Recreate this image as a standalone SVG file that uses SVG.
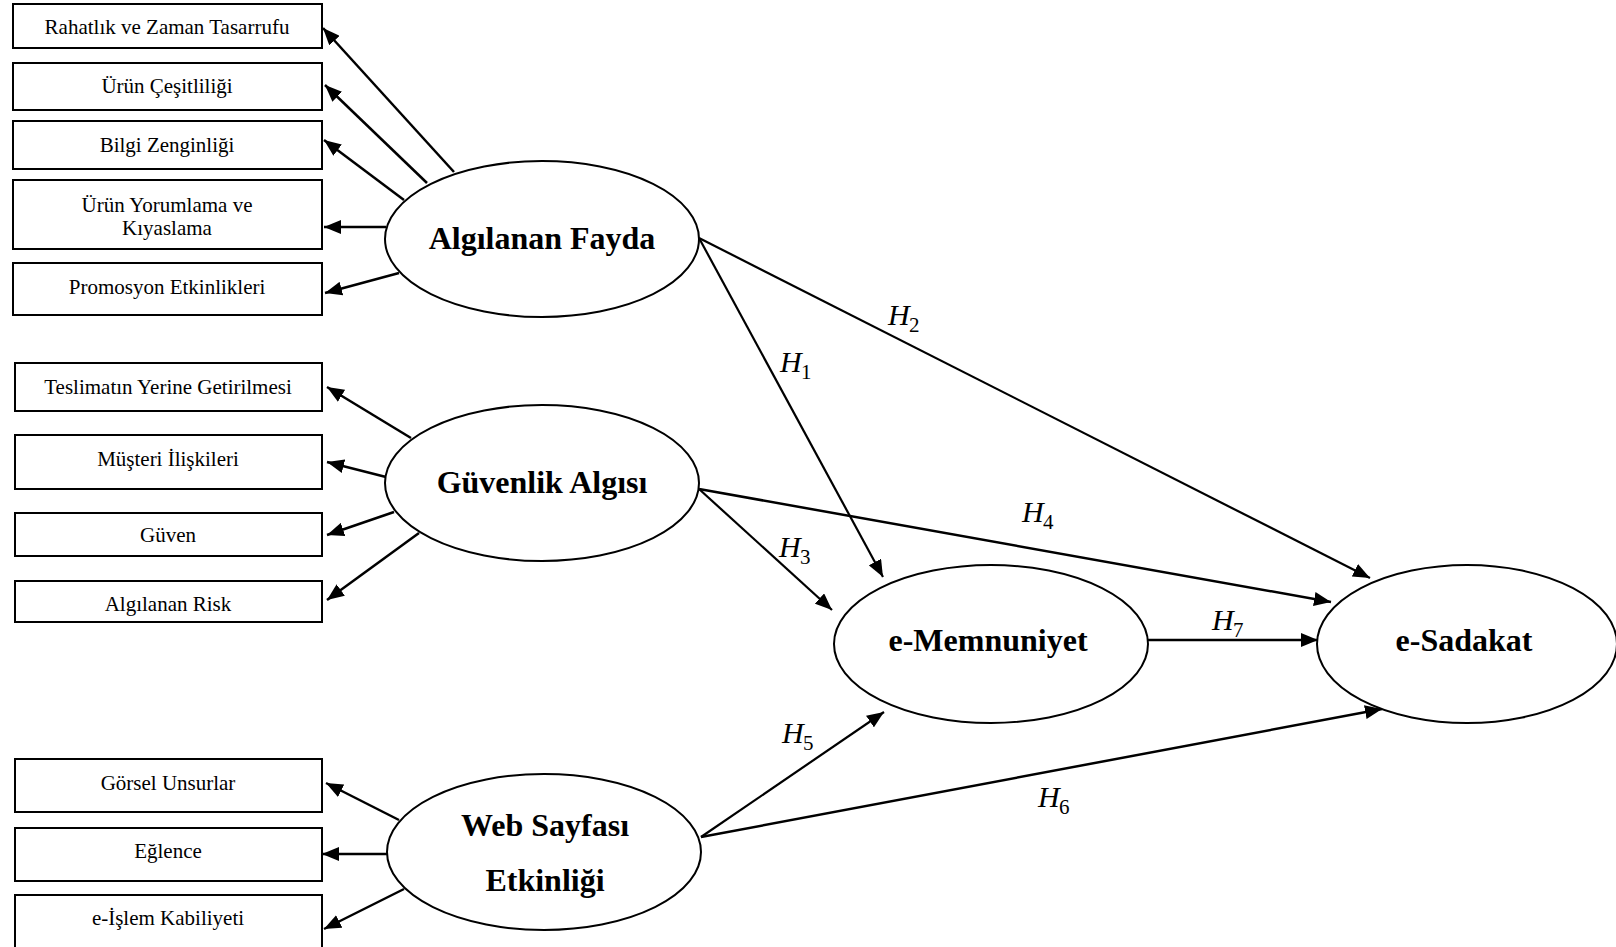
<svg xmlns="http://www.w3.org/2000/svg" width="1616" height="947" viewBox="0 0 1616 947">
  <defs>
    <marker id="arrow" markerUnits="userSpaceOnUse" markerWidth="18" markerHeight="14" refX="17" refY="7" orient="auto">
      <path d="M0,0 L17,7 L0,14 z" fill="#000"/>
    </marker>
    <style>
      .box { fill: #fff; stroke: #000; stroke-width: 2; }
      .oval { fill: #fff; stroke: #000; stroke-width: 2; }
      .lbl { font-family: "Liberation Serif", "Times New Roman", serif; font-size: 21px; fill: #000; text-anchor: middle; }
      .title { font-family: "Liberation Serif", "Times New Roman", serif; font-size: 32px; font-weight: bold; fill: #000; text-anchor: middle; }
      .hyp { font-family: "Liberation Serif", "Times New Roman", serif; font-size: 30px; font-style: italic; fill: #000; }
      .sub { font-family: "Liberation Serif", "Times New Roman", serif; font-size: 21px; fill: #000; }
      .edge { stroke: #000; stroke-width: 2.5; fill: none; marker-end: url(#arrow); }
      .path { stroke: #000; stroke-width: 2.2; fill: none; marker-end: url(#arrow); }
    </style>
  </defs>
  <rect width="1616" height="947" fill="#fff"/>

  <!-- indicator connectors and structural paths -->
  <g id="connectors">
    <line class="edge" x1="454" y1="172" x2="323" y2="28"/>
    <line class="edge" x1="427" y1="183" x2="325" y2="85"/>
    <line class="edge" x1="404" y1="200" x2="324" y2="140"/>
    <line class="edge" x1="386" y1="227" x2="324" y2="227"/>
    <line class="edge" x1="399" y1="273" x2="325" y2="293"/>

    <line class="edge" x1="411" y1="438" x2="327" y2="387"/>
    <line class="edge" x1="386" y1="477" x2="327" y2="462"/>
    <line class="edge" x1="394" y1="512" x2="327" y2="535"/>
    <line class="edge" x1="419" y1="533" x2="327" y2="600"/>

    <line class="edge" x1="399" y1="820" x2="326" y2="783"/>
    <line class="edge" x1="388" y1="854" x2="322" y2="854"/>
    <line class="edge" x1="404" y1="889" x2="324" y2="929"/>

    <line class="path" x1="699" y1="238" x2="883" y2="577"/>
    <line class="path" x1="699" y1="238" x2="1370" y2="578"/>
    <line class="path" x1="699" y1="489" x2="832" y2="610"/>
    <line class="edge" x1="699" y1="489" x2="1331" y2="602"/>
    <line class="edge" x1="1148" y1="640" x2="1318" y2="640"/>
    <line class="path" x1="701" y1="837" x2="884" y2="712"/>
    <line class="edge" x1="701" y1="837" x2="1382" y2="709"/>
  </g>

  <!-- hypothesis labels -->
  <g id="labels">
    <text class="hyp" x="780" y="372">H</text><text class="sub" x="801" y="379">1</text>
    <text class="hyp" x="888" y="325">H</text><text class="sub" x="909" y="332">2</text>
    <text class="hyp" x="779" y="557">H</text><text class="sub" x="800" y="564">3</text>
    <text class="hyp" x="1022" y="522">H</text><text class="sub" x="1043" y="529">4</text>
    <text class="hyp" x="782" y="743">H</text><text class="sub" x="803" y="750">5</text>
    <text class="hyp" x="1038" y="807">H</text><text class="sub" x="1059" y="814">6</text>
    <text class="hyp" x="1212" y="630">H</text><text class="sub" x="1233" y="637">7</text>
  </g>

  <!-- Algılanan Fayda indicators -->
  <g id="rahatlik"><rect class="box" x="13" y="4" width="309" height="44"/><text class="lbl" x="167" y="34">Rahatlık ve Zaman Tasarrufu</text></g>
  <g id="urun-cesitliligi"><rect class="box" x="13" y="63" width="309" height="47"/><text class="lbl" x="167" y="93">Ürün Çeşitliliği</text></g>
  <g id="bilgi-zenginligi"><rect class="box" x="13" y="121" width="309" height="48"/><text class="lbl" x="167" y="152">Bilgi Zenginliği</text></g>
  <g id="urun-yorumlama"><rect class="box" x="13" y="180" width="309" height="69"/><text class="lbl" x="167" y="212">Ürün Yorumlama ve</text><text class="lbl" x="167" y="235">Kıyaslama</text></g>
  <g id="promosyon"><rect class="box" x="13" y="263" width="309" height="52"/><text class="lbl" x="167" y="294">Promosyon Etkinlikleri</text></g>

  <!-- Güvenlik Algısı indicators -->
  <g id="teslimat"><rect class="box" x="15" y="363" width="307" height="48"/><text class="lbl" x="168" y="394">Teslimatın Yerine Getirilmesi</text></g>
  <g id="musteri"><rect class="box" x="15" y="435" width="307" height="54"/><text class="lbl" x="168" y="466">Müşteri İlişkileri</text></g>
  <g id="guven"><rect class="box" x="15" y="513" width="307" height="43"/><text class="lbl" x="168" y="542">Güven</text></g>
  <g id="risk"><rect class="box" x="15" y="581" width="307" height="41"/><text class="lbl" x="168" y="611">Algılanan Risk</text></g>

  <!-- Web Sayfası Etkinliği indicators -->
  <g id="gorsel"><rect class="box" x="15" y="759" width="307" height="53"/><text class="lbl" x="168" y="790">Görsel Unsurlar</text></g>
  <g id="eglence"><rect class="box" x="15" y="828" width="307" height="53"/><text class="lbl" x="168" y="858">Eğlence</text></g>
  <g id="e-islem"><rect class="box" x="15" y="895" width="307" height="62"/><text class="lbl" x="168" y="925">e-İşlem Kabiliyeti</text></g>

  <!-- latent constructs -->
  <g id="algilanan-fayda"><ellipse class="oval" cx="542" cy="239" rx="157" ry="78"/><text class="title" x="542" y="249">Algılanan Fayda</text></g>
  <g id="guvenlik-algisi"><ellipse class="oval" cx="542" cy="483" rx="157" ry="78"/><text class="title" x="542" y="493">Güvenlik Algısı</text></g>
  <g id="web-sayfasi"><ellipse class="oval" cx="544" cy="852" rx="157" ry="78"/><text class="title" x="545" y="836">Web Sayfası</text><text class="title" x="545" y="891">Etkinliği</text></g>
  <g id="e-memnuniyet"><ellipse class="oval" cx="991" cy="644" rx="157" ry="79"/><text class="title" x="988" y="651">e-Memnuniyet</text></g>
  <g id="e-sadakat"><ellipse class="oval" cx="1467" cy="644" rx="150" ry="79"/><text class="title" x="1464" y="651">e-Sadakat</text></g>
</svg>
